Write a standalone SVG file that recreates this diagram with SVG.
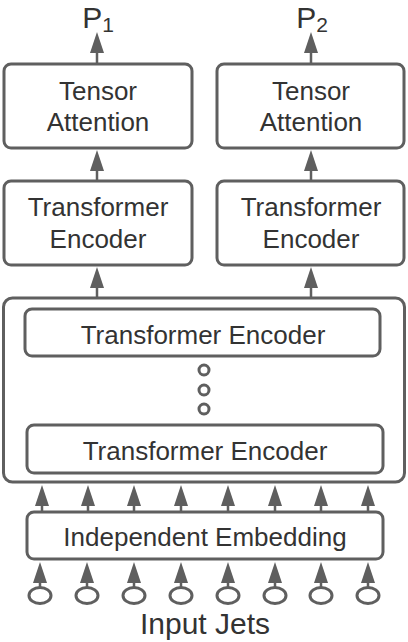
<svg xmlns="http://www.w3.org/2000/svg" width="408" height="642" viewBox="0 0 408 642">
<style>
.box{fill:#fff;stroke:#5f5f5f;stroke-width:3}
.t{font-family:"Liberation Sans",Arial,sans-serif;fill:#333;text-anchor:middle;font-size:26px}
.c{fill:none;stroke:#5f5f5f;stroke-width:2.5}
.ring{fill:#fff;stroke:#5f5f5f;stroke-width:3}
</style>
<defs>
<marker id="ah" viewBox="0 0 21 14" refX="11" refY="7" markerWidth="21" markerHeight="14" orient="auto" markerUnits="userSpaceOnUse">
<path d="M0,0 L21,7 L0,14 z" fill="#5f5f5f"/>
</marker>
</defs>
<g id="connectors">
<line class="c" x1="97" y1="64" x2="97" y2="42" marker-end="url(#ah)"/>
<line class="c" x1="311" y1="64" x2="311" y2="42" marker-end="url(#ah)"/>
<line class="c" x1="97" y1="181" x2="97" y2="160" marker-end="url(#ah)"/>
<line class="c" x1="311" y1="181" x2="311" y2="160" marker-end="url(#ah)"/>
<line class="c" x1="97" y1="298" x2="97" y2="277" marker-end="url(#ah)"/>
<line class="c" x1="311" y1="298" x2="311" y2="277" marker-end="url(#ah)"/>
<g id="emb-arrows">
<line class="c" x1="42" y1="511" x2="42" y2="495" marker-end="url(#ah)"/>
<line class="c" x1="88" y1="511" x2="88" y2="495" marker-end="url(#ah)"/>
<line class="c" x1="134" y1="511" x2="134" y2="495" marker-end="url(#ah)"/>
<line class="c" x1="181" y1="511" x2="181" y2="495" marker-end="url(#ah)"/>
<line class="c" x1="228" y1="511" x2="228" y2="495" marker-end="url(#ah)"/>
<line class="c" x1="275" y1="511" x2="275" y2="495" marker-end="url(#ah)"/>
<line class="c" x1="321" y1="511" x2="321" y2="495" marker-end="url(#ah)"/>
<line class="c" x1="368" y1="511" x2="368" y2="495" marker-end="url(#ah)"/>
</g>
<g id="jet-arrows">
<line class="c" x1="40" y1="588" x2="40" y2="572" marker-end="url(#ah)"/>
<line class="c" x1="87" y1="588" x2="87" y2="572" marker-end="url(#ah)"/>
<line class="c" x1="134" y1="588" x2="134" y2="572" marker-end="url(#ah)"/>
<line class="c" x1="181" y1="588" x2="181" y2="572" marker-end="url(#ah)"/>
<line class="c" x1="228" y1="588" x2="228" y2="572" marker-end="url(#ah)"/>
<line class="c" x1="275" y1="588" x2="275" y2="572" marker-end="url(#ah)"/>
<line class="c" x1="321" y1="588" x2="321" y2="572" marker-end="url(#ah)"/>
<line class="c" x1="368" y1="588" x2="368" y2="572" marker-end="url(#ah)"/>
</g>
</g>
<g id="P1"><text class="t" x="98" y="28" style="font-size:30px">P<tspan dy="4" style="font-size:21px">1</tspan></text></g>
<g id="P2"><text class="t" x="312" y="28" style="font-size:30px">P<tspan dy="4" style="font-size:21px">2</tspan></text></g>
<g id="tensor-attention-1">
<rect class="box" x="4" y="64" width="188" height="84" rx="7"/>
<text class="t" x="98" y="100">Tensor</text>
<text class="t" x="98" y="131">Attention</text>
</g>
<g id="tensor-attention-2">
<rect class="box" x="217" y="64" width="187" height="84" rx="7"/>
<text class="t" x="311" y="100">Tensor</text>
<text class="t" x="311" y="131">Attention</text>
</g>
<g id="transformer-encoder-1">
<rect class="box" x="4" y="181" width="188" height="84" rx="7"/>
<text class="t" x="98" y="216">Transformer</text>
<text class="t" x="98" y="248">Encoder</text>
</g>
<g id="transformer-encoder-2">
<rect class="box" x="217" y="181" width="187" height="84" rx="7"/>
<text class="t" x="311" y="216">Transformer</text>
<text class="t" x="311" y="248">Encoder</text>
</g>
<g id="encoder-stack">
<rect class="box" x="3.5" y="298" width="401" height="184" rx="9"/>
<g id="stack-top">
<rect class="box" x="25" y="309" width="355" height="47" rx="7"/>
<text class="t" x="203" y="344">Transformer Encoder</text>
</g>
<circle class="ring" cx="204" cy="370" r="5"/>
<circle class="ring" cx="204" cy="390" r="5"/>
<circle class="ring" cx="204" cy="409" r="5"/>
<g id="stack-bottom">
<rect class="box" x="27" y="425" width="356" height="48" rx="7"/>
<text class="t" x="205" y="460">Transformer Encoder</text>
</g>
</g>
<g id="independent-embedding">
<rect class="box" x="27" y="512" width="356" height="47" rx="7"/>
<text class="t" x="205" y="546">Independent Embedding</text>
</g>
<g id="input-jets">
<ellipse class="ring" cx="40" cy="595.5" rx="11" ry="8"/>
<ellipse class="ring" cx="87" cy="595.5" rx="11" ry="8"/>
<ellipse class="ring" cx="134" cy="595.5" rx="11" ry="8"/>
<ellipse class="ring" cx="181" cy="595.5" rx="11" ry="8"/>
<ellipse class="ring" cx="228" cy="595.5" rx="11" ry="8"/>
<ellipse class="ring" cx="275" cy="595.5" rx="11" ry="8"/>
<ellipse class="ring" cx="321" cy="595.5" rx="11" ry="8"/>
<ellipse class="ring" cx="368" cy="595.5" rx="11" ry="8"/>
<text class="t" x="205" y="634" style="font-size:30px">Input Jets</text>
</g>
</svg>
